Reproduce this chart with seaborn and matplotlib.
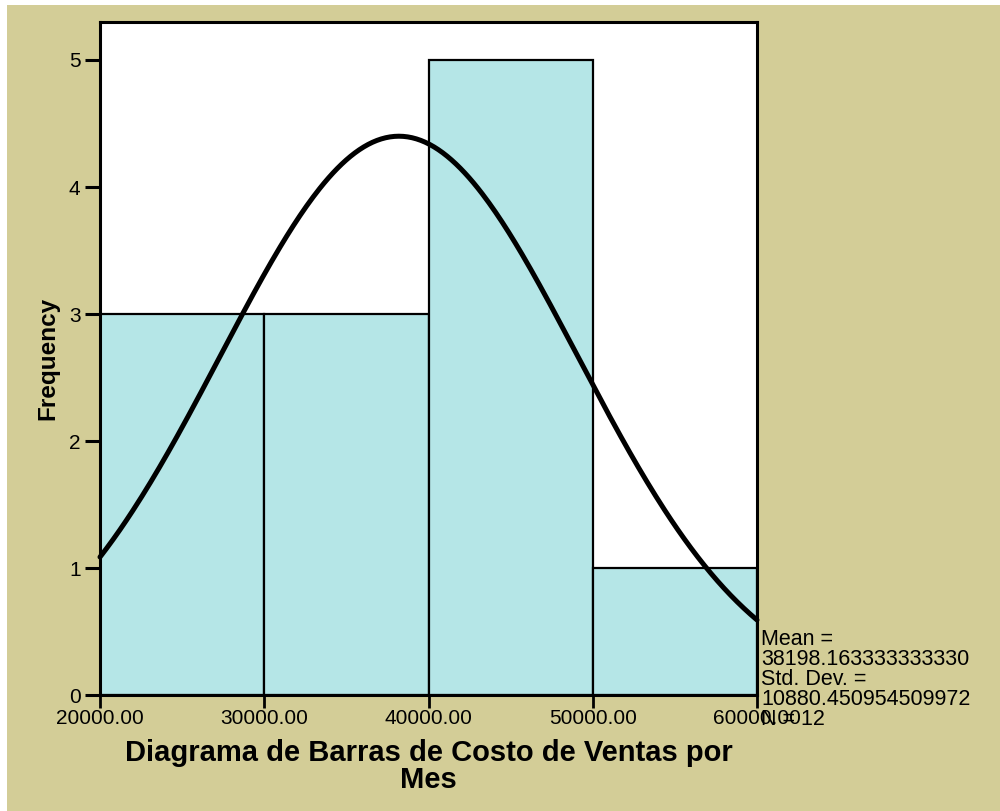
import numpy as np
import pandas as pd
import matplotlib
matplotlib.use("Agg")
import matplotlib.pyplot as plt
import seaborn as sns

# histogram of monthly sales cost (SPSS style)
bin_edges = [20000, 30000, 40000, 50000, 60000]
bin_counts = [3, 3, 5, 1]
x_ticks = [20000, 30000, 40000, 50000, 60000]
y_ticks = [0, 1, 2, 3, 4, 5]

mean_val = 38198.163333333330
std_val = 10880.450954509972
n_val = 12

BG = "#D3CD97"
BAR = "#B5E6E7"

sns.set_style("white")
plt.rcParams["font.family"] = ["Liberation Sans", "DejaVu Sans"]
plt.rcParams["text.color"] = "black"
plt.rcParams["axes.labelcolor"] = "black"
plt.rcParams["xtick.color"] = "black"
plt.rcParams["ytick.color"] = "black"

fig = plt.figure(figsize=(10, 8.11), dpi=100, facecolor="white")
fig.patches.append(plt.Rectangle((0.007, 0), 0.993, 1 - 5 / 811, transform=fig.transFigure,
                                 facecolor=BG, edgecolor="none", zorder=-10))
ax = fig.add_axes([0.1, 0.143, 0.657, 0.830])
ax.set_facecolor("white")

centers = [(a + b) / 2 for a, b in zip(bin_edges[:-1], bin_edges[1:])]
df = pd.DataFrame({"value": centers, "count": bin_counts})
sns.histplot(data=df, x="value", weights="count", bins=bin_edges, color=BAR,
             edgecolor="black", linewidth=1.6, alpha=1, ax=ax)

# fitted normal curve scaled to counts
binw = bin_edges[1] - bin_edges[0]
xs = np.linspace(bin_edges[0], bin_edges[-1], 300)
ys = n_val * binw / (std_val * np.sqrt(2 * np.pi)) * np.exp(-0.5 * ((xs - mean_val) / std_val) ** 2)
sns.lineplot(x=xs, y=ys, color="black", linewidth=3.6, ax=ax, clip_on=False)

ax.set_xlim(bin_edges[0], bin_edges[-1])
ax.set_ylim(0, 5.3)
ax.set_xticks(x_ticks)
ax.set_xticklabels([f"{v:.2f}" for v in x_ticks], fontsize=15)
ax.set_yticks(y_ticks)
ax.set_yticklabels([str(v) for v in y_ticks], fontsize=15)
ax.tick_params(axis="y", direction="out", length=11, width=2.2, pad=3, left=True)
ax.tick_params(axis="x", direction="out", length=9, width=2, pad=1, bottom=True)
for s in ax.spines.values():
    s.set_linewidth(2.2)
    s.set_color("black")

ax.set_ylabel("Frequency", fontsize=17.5, fontweight="bold", labelpad=7)
ax.set_xlabel("Diagrama de Barras de Costo de Ventas por\nMes", fontsize=21,
              fontweight="bold", labelpad=8, linespacing=0.95)

stats = (f"Mean =\n{mean_val:.12f}\nStd. Dev. =\n{std_val:.12f}\nN = {n_val}")
fig.text(0.761, 1 - 629 / 811, stats, fontsize=15.5, va="top", ha="left", linespacing=0.93)

fig.savefig("out.png", dpi=100, facecolor=fig.get_facecolor())
